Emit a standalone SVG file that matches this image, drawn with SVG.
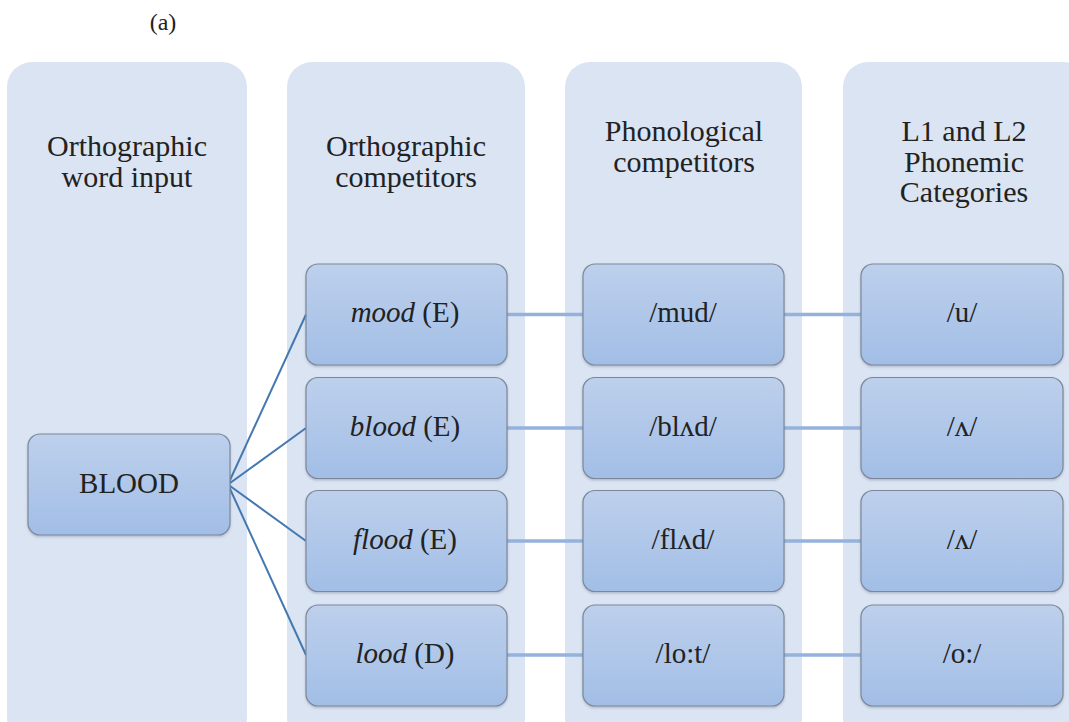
<svg xmlns="http://www.w3.org/2000/svg" width="1069" height="722" viewBox="0 0 1069 722">
<defs>
<linearGradient id="ng" x1="0" y1="0" x2="0" y2="1">
<stop offset="0" stop-color="#BDD0EC"/>
<stop offset="1" stop-color="#A2BEE6"/>
</linearGradient>
<filter id="sh" x="-10%" y="-10%" width="120%" height="125%">
<feDropShadow dx="0" dy="1.5" stdDeviation="1.2" flood-color="#5A6A80" flood-opacity="0.35"/>
</filter>
</defs>
<style>
.col{fill:#DBE4F3}
.node{fill:url(#ng);stroke:#7C889A;stroke-width:1.2;filter:url(#sh)}
.c1{stroke:#4478B0;stroke-width:2;fill:none}
.c2{stroke:#94B2DC;stroke-width:3.5;fill:none}
.hd{font-size:30px}
.nt{font-size:29px}
</style>
<rect width="1069" height="722" fill="#FFFFFF"/>
<g font-family="Liberation Serif, Times New Roman, serif" fill="#222" text-anchor="middle">
<text x="163" y="30" font-size="24">(a)</text>
<g id="col-input">
<rect class="col" x="7" y="62" width="240" height="680" rx="25"/>
<text class="hd" x="127" y="156">Orthographic</text>
<text class="hd" x="127" y="186.5">word input</text>
</g>
<g id="col-orth">
<rect class="col" x="287" y="62" width="238" height="680" rx="25"/>
<text class="hd" x="406" y="156">Orthographic</text>
<text class="hd" x="406" y="186.5">competitors</text>
</g>
<g id="col-phon">
<rect class="col" x="565" y="62" width="237" height="680" rx="25"/>
<text class="hd" x="684" y="141">Phonological</text>
<text class="hd" x="684" y="171.5">competitors</text>
</g>
<g id="col-cat">
<rect class="col" x="843" y="62" width="245" height="680" rx="25"/>
<text class="hd" x="964" y="141">L1 and L2</text>
<text class="hd" x="964" y="171.5">Phonemic</text>
<text class="hd" x="964" y="202">Categories</text>
</g>
<g id="connectors">
<line class="c1" x1="228" y1="484.5" x2="306" y2="314.5"/>
<line class="c1" x1="228" y1="484.5" x2="306" y2="428"/>
<line class="c1" x1="228" y1="484.5" x2="306" y2="541"/>
<line class="c1" x1="228" y1="484.5" x2="306" y2="655"/>
<line class="c2" x1="507" y1="314.5" x2="583" y2="314.5"/>
<line class="c2" x1="507" y1="428" x2="583" y2="428"/>
<line class="c2" x1="507" y1="541" x2="583" y2="541"/>
<line class="c2" x1="507" y1="655" x2="583" y2="655"/>
<line class="c2" x1="784" y1="314.5" x2="861" y2="314.5"/>
<line class="c2" x1="784" y1="428" x2="861" y2="428"/>
<line class="c2" x1="784" y1="541" x2="861" y2="541"/>
<line class="c2" x1="784" y1="655" x2="861" y2="655"/>
</g>
<g id="n-blood-input">
<rect class="node" x="28" y="434" width="202" height="101" rx="12"/>
<text class="nt" x="129" y="493">BLOOD</text>
</g>
<g id="n-mood">
<rect class="node" x="306" y="264" width="201" height="101" rx="12"/>
<text class="nt" x="405" y="322"><tspan font-style="italic">mood</tspan> (E)</text>
</g>
<g id="n-blood">
<rect class="node" x="306" y="377.5" width="201" height="101" rx="12"/>
<text class="nt" x="405" y="436"><tspan font-style="italic">blood</tspan> (E)</text>
</g>
<g id="n-flood">
<rect class="node" x="306" y="490.5" width="201" height="101" rx="12"/>
<text class="nt" x="405" y="549"><tspan font-style="italic">flood</tspan> (E)</text>
</g>
<g id="n-lood">
<rect class="node" x="306" y="605" width="201" height="101" rx="12"/>
<text class="nt" x="405" y="663"><tspan font-style="italic">lood</tspan> (D)</text>
</g>
<g id="n-mud">
<rect class="node" x="583" y="264" width="201" height="101" rx="12"/>
<text class="nt" x="683" y="322">/mud/</text>
</g>
<g id="n-blad">
<rect class="node" x="583" y="377.5" width="201" height="101" rx="12"/>
<text class="nt" x="683" y="436">/blʌd/</text>
</g>
<g id="n-flad">
<rect class="node" x="583" y="490.5" width="201" height="101" rx="12"/>
<text class="nt" x="683" y="549">/flʌd/</text>
</g>
<g id="n-lot">
<rect class="node" x="583" y="605" width="201" height="101" rx="12"/>
<text class="nt" x="683" y="663">/lo:t/</text>
</g>
<g id="n-u">
<rect class="node" x="861" y="264" width="202" height="101" rx="12"/>
<text class="nt" x="962" y="322">/u/</text>
</g>
<g id="n-wedge1">
<rect class="node" x="861" y="377.5" width="202" height="101" rx="12"/>
<text class="nt" x="962" y="436">/ʌ/</text>
</g>
<g id="n-wedge2">
<rect class="node" x="861" y="490.5" width="202" height="101" rx="12"/>
<text class="nt" x="962" y="549">/ʌ/</text>
</g>
<g id="n-o">
<rect class="node" x="861" y="605" width="202" height="101" rx="12"/>
<text class="nt" x="962" y="663">/o:/</text>
</g>
</g>
</svg>
